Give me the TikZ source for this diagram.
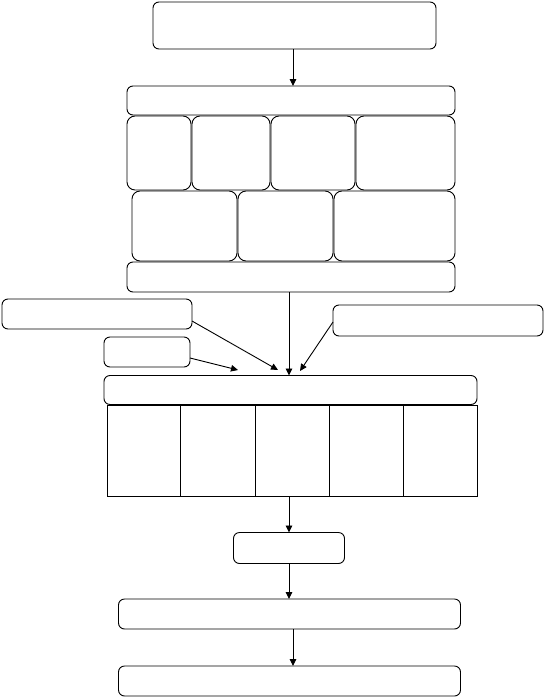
\documentclass[tikz,border=0pt]{standalone}
\usetikzlibrary{arrows.meta,positioning}

\begin{document}
\begin{tikzpicture}[
  x=1pt, y=-1pt,
  roundbox/.style={rectangle, rounded corners=6pt, draw=black, line width=0.9pt, inner sep=0pt, outer sep=0pt},
  cellbox/.style={rectangle, draw=black, line width=0.9pt, inner sep=0pt, outer sep=0pt, minimum width=74pt, minimum height=91pt},
  arrow/.style={-{Triangle[length=7pt,width=6.5pt]}, line width=0.9pt, black}
]
\useasboundingbox (0,0) rectangle (544,697);
% top part
\node[roundbox, minimum width=283pt, minimum height=47pt] (top) at (294.5,25.5) {};
\node[roundbox, minimum width=328pt, minimum height=29pt] (bar1) at (291,100.5) {};
\node[roundbox, rounded corners=8pt, minimum width=64pt, minimum height=74pt] (b1) at (159,153) {};
\node[roundbox, rounded corners=8pt, minimum width=78pt, minimum height=74pt] (b2) at (231,153) {};
\node[roundbox, rounded corners=8pt, minimum width=84pt, minimum height=74pt] (b3) at (313,153) {};
\node[roundbox, rounded corners=8pt, minimum width=99pt, minimum height=74pt] (b4) at (405.5,153) {};
\node[roundbox, rounded corners=8pt, minimum width=105pt, minimum height=70pt] (c1) at (184.5,226) {};
\node[roundbox, rounded corners=8pt, minimum width=95pt, minimum height=70pt] (c2) at (285.5,226) {};
\node[roundbox, rounded corners=8pt, minimum width=121pt, minimum height=70pt] (c3) at (394.5,226) {};
\node[roundbox, minimum width=328pt, minimum height=30pt] (bar2) at (291,277) {};
% side inputs
\node[roundbox, minimum width=190pt, minimum height=30pt] (left1) at (97,314) {};
\node[roundbox, minimum width=86pt, minimum height=30pt] (left2) at (147,352) {};
\node[roundbox, minimum width=210pt, minimum height=31pt] (right1) at (438,320.5) {};
% table
\node[roundbox, minimum width=373pt, minimum height=29pt] (head) at (290.5,390) {};
\node[cellbox, minimum width=73pt] (cell1) at (143.5,451) {};
\node[cellbox, minimum width=75pt] (cell2) at (217.5,451) {};
\node[cellbox] (cell3) at (292,451) {};
\node[cellbox] (cell4) at (366,451) {};
\node[cellbox] (cell5) at (440,451) {};
% bottom part
\node[roundbox, minimum width=111pt, minimum height=31pt] (mid) at (289,548) {};
\node[roundbox, minimum width=342pt, minimum height=30pt] (out1) at (289.5,614) {};
\node[roundbox, minimum width=342pt, minimum height=30pt] (out2) at (289.5,681) {};

\coordinate (tipA) at (278,370);
\coordinate (tipB) at (238,370);
\coordinate (tipC) at (300,371);

\draw[arrow] ([xshift=-1.5pt]top.south) -- ([xshift=-1.5pt]top.south |- bar1.north);
\draw[arrow] ([xshift=-2pt]bar2.south) -- ([xshift=-2pt]bar2.south |- head.north);
\draw[arrow] ([yshift=-7pt]left1.east) -- (tipA);
\draw[arrow] ([yshift=-6pt]left2.east) -- (tipB);
\draw[arrow] ([yshift=-1.5pt]right1.west) -- (tipC);
\draw[arrow] (mid.north |- cell3.south) -- (mid.north);
\draw[arrow] (mid.south) -- (mid.south |- out1.north);
\draw[arrow] ([xshift=3.5pt]out1.south) -- ([xshift=3.5pt]out2.north);
\end{tikzpicture}
\end{document}
